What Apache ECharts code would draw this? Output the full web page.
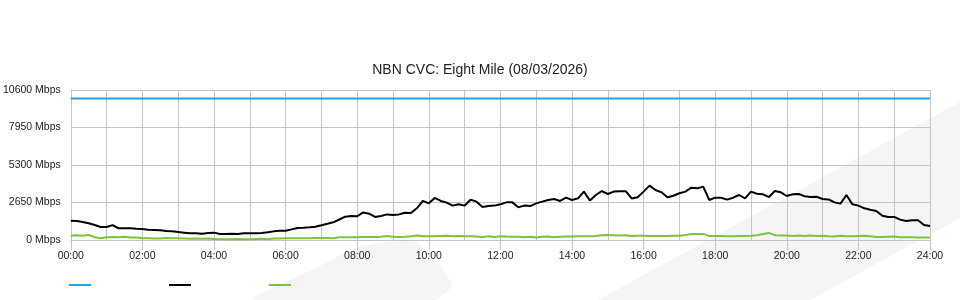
<!DOCTYPE html>
<html>
<head>
<meta charset="utf-8">
<script src="https://cdn.jsdelivr.net/npm/echarts@6/dist/echarts.min.js"></script>
<style>html,body{margin:0;padding:0;background:#fff}#c{width:960px;height:300px}</style>
</head>
<body>
<div id="c"></div>
<script>
const titleText = 'NBN CVC: Eight Mile (08/03/2026)';
const yTicks = [0, 2650, 5300, 7950, 10600];
const seriesNames = ['Capacity', 'Inbound', 'Outbound'];
const capacityMbps = 10000;

// 10-minute samples from 00:00 to 24:00
const times = [];
for (let m = 0; m <= 1440; m += 10) {
  times.push(String(Math.floor(m / 60)).padStart(2, '0') + ':' + String(m % 60).padStart(2, '0'));
}

const inbound = [
  1360, 1340, 1270, 1180, 1060, 920,
  920, 1050, 830, 830, 830, 800,
  780, 730, 710, 690, 640, 610,
  570, 520, 470, 470, 450, 490,
  520, 430, 420, 450, 420, 470,
  470, 470, 490, 540, 610, 660,
  660, 750, 850, 870, 900, 940,
  1040, 1150, 1250, 1450, 1650, 1690,
  1680, 1950, 1860, 1630, 1700, 1810,
  1770, 1810, 1930, 1910, 2240, 2760,
  2590, 2970, 2760, 2640, 2430, 2520,
  2430, 2850, 2710, 2330, 2400, 2430,
  2520, 2660, 2660, 2310, 2430, 2400,
  2590, 2710, 2830, 2900, 2760, 2990,
  2830, 2940, 3420, 2790, 3180, 3460,
  3250, 3420, 3440, 3450, 2940, 3020,
  3420, 3840, 3530, 3370, 3020, 3130,
  3300, 3420, 3700, 3650, 3770, 2830,
  2990, 2990, 2850, 2990, 3180, 2940,
  3420, 3270, 3230, 3040, 3460, 3370,
  3110, 3230, 3250, 3090, 3040, 3060,
  2900, 2870, 2660, 2570, 3180, 2520,
  2430, 2240, 2140, 2050, 1720, 1630,
  1630, 1440, 1340, 1390, 1390, 1060,
  990
];

const outbound = [
  300, 340, 300, 350, 200, 130,
  200, 210, 200, 230, 170, 180,
  130, 130, 100, 110, 140, 120,
  120, 110, 90, 110, 80, 110,
  70, 60, 60, 60, 70, 60,
  60, 70, 80, 60, 100, 110,
  120, 130, 130, 130, 130, 140,
  140, 150, 130, 190, 200, 200,
  200, 210, 210, 220, 230, 280,
  230, 220, 230, 260, 310, 270,
  270, 260, 280, 300, 260, 290,
  260, 260, 240, 220, 260, 220,
  270, 240, 230, 230, 200, 230,
  180, 230, 240, 200, 230, 240,
  250, 260, 260, 270, 290, 340,
  350, 340, 310, 330, 290, 300,
  300, 290, 280, 290, 280, 300,
  300, 360, 420, 430, 430, 290,
  280, 280, 270, 260, 290, 280,
  300, 330, 420, 500, 340, 320,
  310, 280, 310, 290, 310, 280,
  300, 260, 250, 300, 270, 260,
  290, 300, 260, 220, 210, 230,
  240, 200, 190, 190, 180, 180,
  180
];

const capacity = times.map(() => capacityMbps);

const colors = ['#22a3e3', '#000000', '#7fc241'];
const gridColor = '#c4c4c4';
const font = '"Liberation Sans", Arial, sans-serif';

const chart = echarts.init(document.getElementById('c'), null, { renderer: 'canvas' });

function legendAt(left, name) {
  return {
    left: left, top: 284, padding: 0, icon: 'rect', itemWidth: 22, itemHeight: 2,
    data: [name], formatter: () => '', selectedMode: false,
    textStyle: { fontSize: 1 }
  };
}

chart.setOption({
  backgroundColor: '#ffffff',
  animation: false,
  graphic: [
    {
      type: 'polygon', z: -10, silent: true,
      shape: { points: [[598, 300], [960, 102], [960, 218], [810, 300]] },
      style: { fill: '#f4f5f7' }
    },
    {
      type: 'polygon', z: -10, silent: true,
      shape: { points: [[253, 300], [320, 266], [350, 250], [378, 243], [413, 241], [428, 252], [452, 285], [433, 300]], smooth: 0.2 },
      style: { fill: '#f4f5f7' }
    }
  ],
  title: {
    text: titleText, left: 'center', top: 63, padding: 0,
    textStyle: { fontFamily: font, fontSize: 14, fontWeight: 'normal', color: '#222' }
  },
  legend: [
    legendAt(69, seriesNames[0]),
    legendAt(169, seriesNames[1]),
    legendAt(269, seriesNames[2])
  ],
  grid: { left: 70, right: 30, top: 90, bottom: 60, containLabel: false },
  xAxis: {
    type: 'category', data: times, boundaryGap: false,
    axisLine: { show: true, lineStyle: { color: gridColor, width: 1 } },
    axisTick: { show: true, interval: 11, length: 10, lineStyle: { color: gridColor } },
    axisLabel: { interval: 11, margin: 11, fontFamily: font, fontSize: 10.5, color: '#222' },
    splitLine: { show: true, interval: 5, lineStyle: { color: gridColor, width: 1 } }
  },
  yAxis: {
    type: 'value', min: yTicks[0], max: yTicks[yTicks.length - 1], interval: yTicks[1] - yTicks[0],
    axisLine: { show: true, lineStyle: { color: gridColor } },
    axisTick: { show: false },
    axisLabel: { margin: 10, fontFamily: font, fontSize: 10.5, color: '#222', formatter: v => v + ' Mbps', padding: [0, 0, 3, 0] },
    splitLine: { show: true, lineStyle: { color: gridColor, width: 1 } }
  },
  series: [
    { name: seriesNames[0], type: 'line', data: capacity, showSymbol: false, lineStyle: { color: colors[0], width: 2 }, itemStyle: { color: colors[0] }, z: 3 },
    { name: seriesNames[1], type: 'line', data: inbound, showSymbol: false, lineStyle: { color: colors[1], width: 2 }, itemStyle: { color: colors[1] }, z: 4 },
    { name: seriesNames[2], type: 'line', data: outbound, showSymbol: false, lineStyle: { color: colors[2], width: 2 }, itemStyle: { color: colors[2] }, z: 3 }
  ]
});
</script>
</body>
</html>
